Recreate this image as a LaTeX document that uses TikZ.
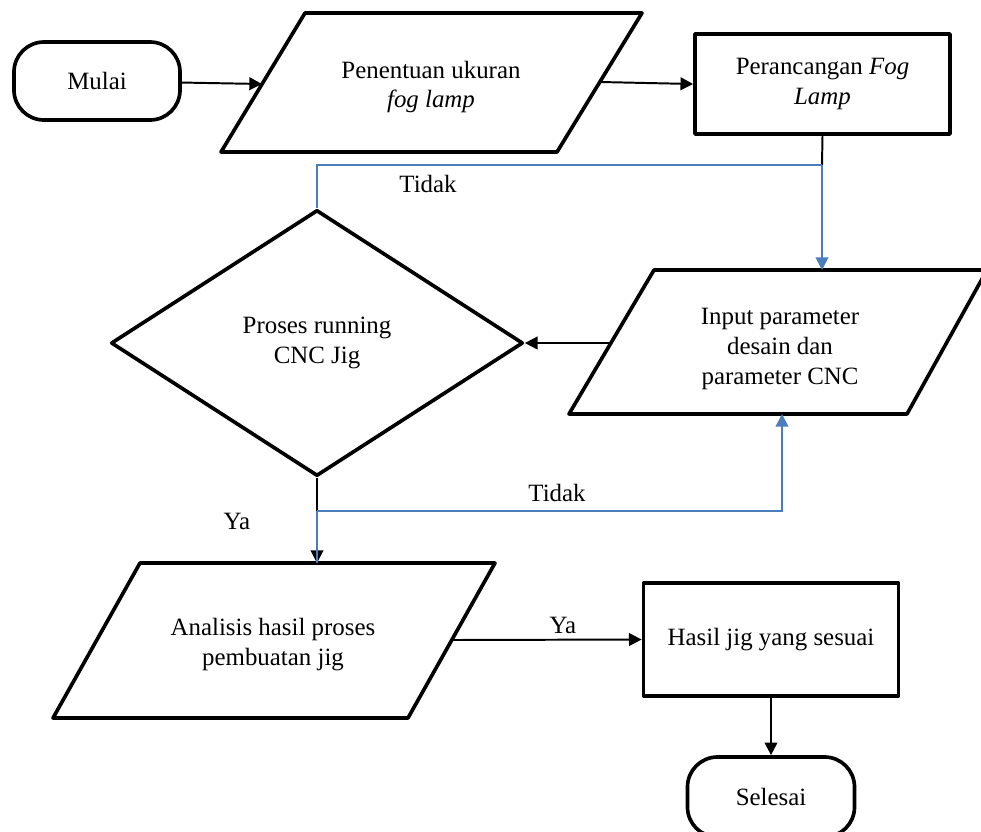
\documentclass[tikz,border=0pt]{standalone}
\usepackage{fontspec}
\setmainfont{Liberation Serif}
\usetikzlibrary{arrows.meta, positioning, calc, shapes.geometric}
\definecolor{lineblue}{RGB}{74,126,187}

\begin{document}
\begin{tikzpicture}[x=0.025cm, y=-0.025cm,
  txt/.style={font=\fontsize{17.7}{21.3}\selectfont, align=center},
  shp/.style={line width=2.6pt, line join=round},
  term/.style={txt, draw, shp, rounded corners=0.75cm, minimum width=4.15cm, minimum height=1.95cm},
  proc/.style={txt, draw, shp, minimum width=6.375cm},
  flow/.style={line width=1.4pt, -{Triangle[length=9pt,width=9pt]}},
  blueline/.style={line width=1.3pt, draw=lineblue}]
% frame — same size as the source picture (in px units)
\useasboundingbox (0,0) rectangle (981,831);
\clip (0,0) rectangle (981,831);
% terminals and boxes
\node[term] (mulai) at (97,81) {Mulai};
\node[proc, minimum height=2.5cm] (rancang) at (822.5,84) {Perancangan \textit{Fog}\\\textit{Lamp}};
\node[proc, minimum height=2.825cm] (hasil) at (771,639.5) {Hasil jig yang sesuai};
\node[term, minimum width=4.175cm, minimum height=2cm] (selesai) at (771,797) {Selesai};
% decision
\node[txt, draw, shp, diamond, inner sep=0pt, minimum width=10.3cm, minimum height=6.65cm] (proses) at (317,343) {Proses running\\CNC Jig};
% parallelograms: outline as path, text as node
\draw[shp] (305,13) -- (642,13) -- (557,152) -- (221,152) -- cycle;
\node[txt] (ukuran) at (431,87) {Penentuan ukuran\\\textit{fog lamp}};
\draw[shp] (654,270) -- (987,270) -- (907,414) -- (569,414) -- cycle;
\node[txt] (input) at (780,349) {Input parameter\\desain dan\\parameter CNC};
\draw[shp] (140,563) -- (495,563) -- (408,718) -- (53,718) -- cycle;
\node[txt] (analisis) at (273,645) {Analisis hasil proses\\pembuatan jig};
% points on the slanted edges, and the two junctions
\coordinate (ukuran-in) at (262,84);
\coordinate (ukuran-out) at (600,82);
\coordinate (input-top) at (822,270);
\coordinate (input-left) at (611,343);
\coordinate (input-bot) at (782,414);
\coordinate (analisis-top) at (317,563);
\coordinate (analisis-out) at (452,640);
\coordinate (loop1) at (822,165);
\coordinate (loop2) at (317,511);
% black flow
\draw[flow] (mulai) -- (ukuran-in);
\draw[flow] (ukuran-out) -- (rancang.west);
\draw[line width=1.4pt] (rancang.south) -- (loop1);
\draw[flow] (input-left) -- (proses.east);
\draw[flow] (proses.south) -- (analisis-top);
\draw[flow] (analisis-out) -- (hasil.west);
\draw[flow] (hasil.south) -- (selesai.north);
% blue loops
\draw[blueline, -{Triangle[length=9pt,width=9pt]}] (loop1) -- (input-top);
\draw[blueline] (loop1) -- (proses.north |- loop1) -- (proses.north);
\draw[blueline] (loop2) -- (analisis-top);
\draw[blueline, -{Triangle[length=9pt,width=9pt]}] (loop2) -| (input-bot);
% labels
\node[txt] (tidak1) at (428,184) {Tidak};
\node[txt] (tidak2) at (557,493) {Tidak};
\node[txt] (ya1) at (237,521) {Ya};
\node[txt] (ya2) at (563,625) {Ya};
\end{tikzpicture}
\end{document}
